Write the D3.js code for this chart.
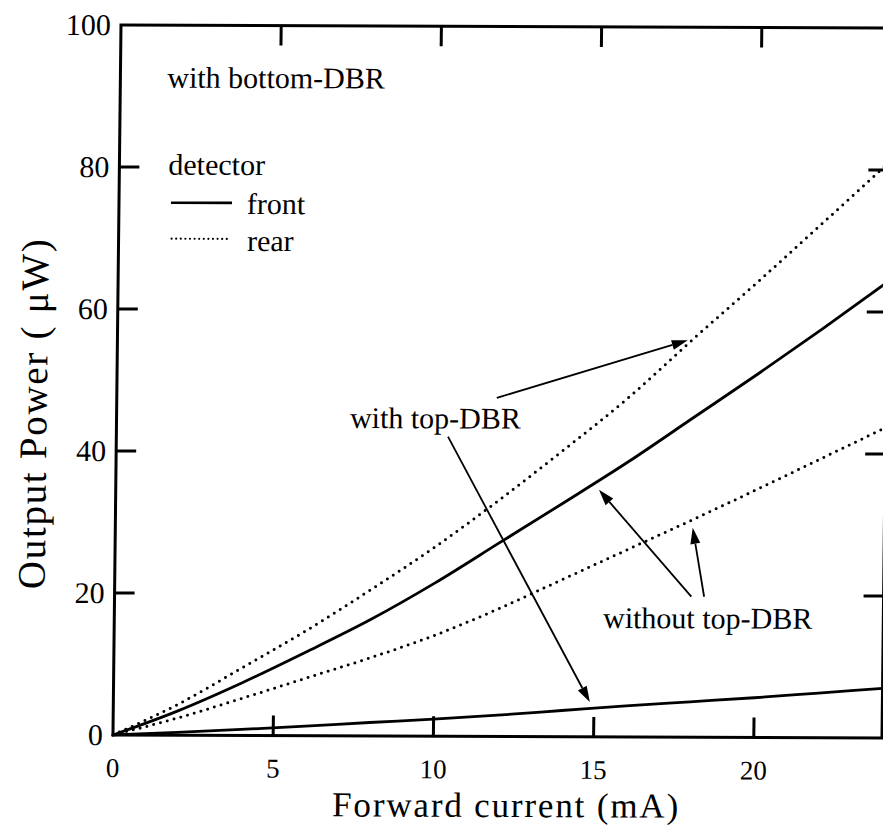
<!DOCTYPE html>
<html>
<head>
<meta charset="utf-8">
<script src="https://cdn.jsdelivr.net/npm/d3@7"></script>
<style>
  html, body { margin: 0; padding: 0; background: #fff; }
  svg { display: block; font-family: "Liberation Serif", "Times New Roman", serif; }
</style>
</head>
<body>
<svg id="chart" width="883" height="832"></svg>
<script>
// Forward current (mA) sample points
const current = [0, 2, 4, 6, 8, 10, 12, 14, 16, 18, 20, 22, 24];
// Output power (µW) for each detector / structure
const rearWithTop     = [0, 4.3, 9.5, 14.8, 20.6, 26.7, 33.4, 40.5, 47.9, 56.2, 64.3, 72.6, 81.0];
const frontWithoutTop = [0, 3.4, 7.4, 11.8, 16.4, 21.6, 27.3, 33.0, 38.8, 45.0, 51.2, 57.6, 64.2];
const rearWithoutTop  = [0, 2.4, 5.2, 8.1, 11.0, 14.2, 18.0, 22.2, 26.4, 30.6, 34.9, 39.3, 43.7];
const frontWithTop    = [0, 0.4, 0.85, 1.35, 1.9, 2.4, 3.0, 3.7, 4.4, 5.0, 5.6, 6.3, 7.0];

const xTicks = [0, 5, 10, 15, 20];
const yTicks = [0, 20, 40, 60, 80, 100];

// Annotation arrows: [tailX, tailY, tipX, tipY] in data units
const arrows = [
  [11.86, 47.7, 17.8, 55.9],
  [10.35, 42.2, 14.87, 4.9],
  [18.0, 19.8, 15.08, 34.8],
  [18.4, 19.8, 18.02, 29.5]
];

const svg = d3.select("#chart");
const L = 117, R = 886, T = 26.5, B = 736.5;
const x = d3.scaleLinear().domain([0, 24]).range([L, R]);
const y = d3.scaleLinear().domain([0, 100]).range([B, T]);

// slight page skew of the printed figure
const g = svg.append("g")
  .attr("transform", "matrix(1,0.004,-0.0113,1,4.29,-2.0)");

const series = [
  { v: rearWithTop, dotted: true },
  { v: frontWithoutTop, dotted: false },
  { v: rearWithoutTop, dotted: true },
  { v: frontWithTop, dotted: false }
];

const line = d3.line()
  .x(d => x(d[0])).y(d => y(d[1]))
  .curve(d3.curveMonotoneX);

series.forEach(s => {
  const p = g.append("path")
    .datum(current.map((c, i) => [c, s.v[i]]))
    .attr("d", line)
    .attr("fill", "none")
    .attr("stroke", "#000");
  if (s.dotted) {
    p.attr("stroke-width", 3).attr("stroke-dasharray", "0 7").attr("stroke-linecap", "round");
  } else {
    p.attr("stroke-width", 2.8);
  }
});

// frame
g.append("rect")
  .attr("x", L).attr("y", T).attr("width", R - L).attr("height", B - T)
  .attr("fill", "none").attr("stroke", "#000").attr("stroke-width", 3);

// inward ticks on all four sides
const tickLen = 20;
const ax = g.append("g").attr("stroke", "#000").attr("stroke-width", 3);
xTicks.slice(1).forEach(t => {
  ax.append("line").attr("x1", x(t)).attr("x2", x(t)).attr("y1", B).attr("y2", B - tickLen);
  ax.append("line").attr("x1", x(t)).attr("x2", x(t)).attr("y1", T).attr("y2", T + tickLen);
});
yTicks.slice(1, -1).forEach(t => {
  ax.append("line").attr("x1", L).attr("x2", L + tickLen).attr("y1", y(t)).attr("y2", y(t));
  ax.append("line").attr("x1", R).attr("x2", R - tickLen).attr("y1", y(t)).attr("y2", y(t));
});

// tick labels
g.append("g").selectAll("text").data(xTicks).join("text")
  .attr("x", d => x(d)).attr("y", B + 42)
  .attr("text-anchor", "middle").attr("font-size", 27)
  .text(d => d);
g.append("g").selectAll("text").data(yTicks).join("text")
  .attr("x", L - 10).attr("y", d => y(d)).attr("dy", "0.34em")
  .attr("text-anchor", "end").attr("font-size", 30)
  .text(d => d);

// axis titles
g.append("text")
  .attr("x", 510).attr("y", 817)
  .attr("text-anchor", "middle").attr("font-size", 35)
  .attr("textLength", 346).attr("lengthAdjust", "spacing")
  .text("Forward current (mA)");
g.append("text")
  .attr("transform", "translate(47,416) rotate(-90)")
  .attr("text-anchor", "middle").attr("font-size", 39)
  .attr("textLength", 350).attr("lengthAdjust", "spacing")
  .text("Output Power ( \u03BCW)");

// annotations
const note = (tx, ty, s) => g.append("text").attr("x", tx).attr("y", ty)
  .attr("font-size", 30).text(s);
note(164, 89, "with bottom-DBR");
note(166, 176, "detector");
note(245, 215, "front");
note(245.5, 252, "rear");
note(350.5, 428.6, "with top-DBR");
note(605.8, 627.6, "without top-DBR");

// legend samples
g.append("line").attr("x1", 169).attr("x2", 230).attr("y1", 204).attr("y2", 204)
  .attr("stroke", "#000").attr("stroke-width", 2.6);
g.append("line").attr("x1", 170).attr("x2", 229).attr("y1", 240).attr("y2", 240)
  .attr("stroke", "#000").attr("stroke-width", 2.2)
  .attr("stroke-dasharray", "0 4.6").attr("stroke-linecap", "round");

// arrows
arrows.forEach(a => {
  const x1 = x(a[0]), y1 = y(a[1]), x2 = x(a[2]), y2 = y(a[3]);
  const ang = Math.atan2(y2 - y1, x2 - x1);
  const hl = 16, hw = 5;
  const bx = x2 - hl * Math.cos(ang), by = y2 - hl * Math.sin(ang);
  g.append("line").attr("x1", x1).attr("y1", y1).attr("x2", bx).attr("y2", by)
    .attr("stroke", "#000").attr("stroke-width", 1.8);
  const px = -Math.sin(ang) * hw, py = Math.cos(ang) * hw;
  g.append("path")
    .attr("d", `M${x2},${y2}L${bx + px},${by + py}L${bx - px},${by - py}Z`)
    .attr("fill", "#000");
});
</script>
</body>
</html>
